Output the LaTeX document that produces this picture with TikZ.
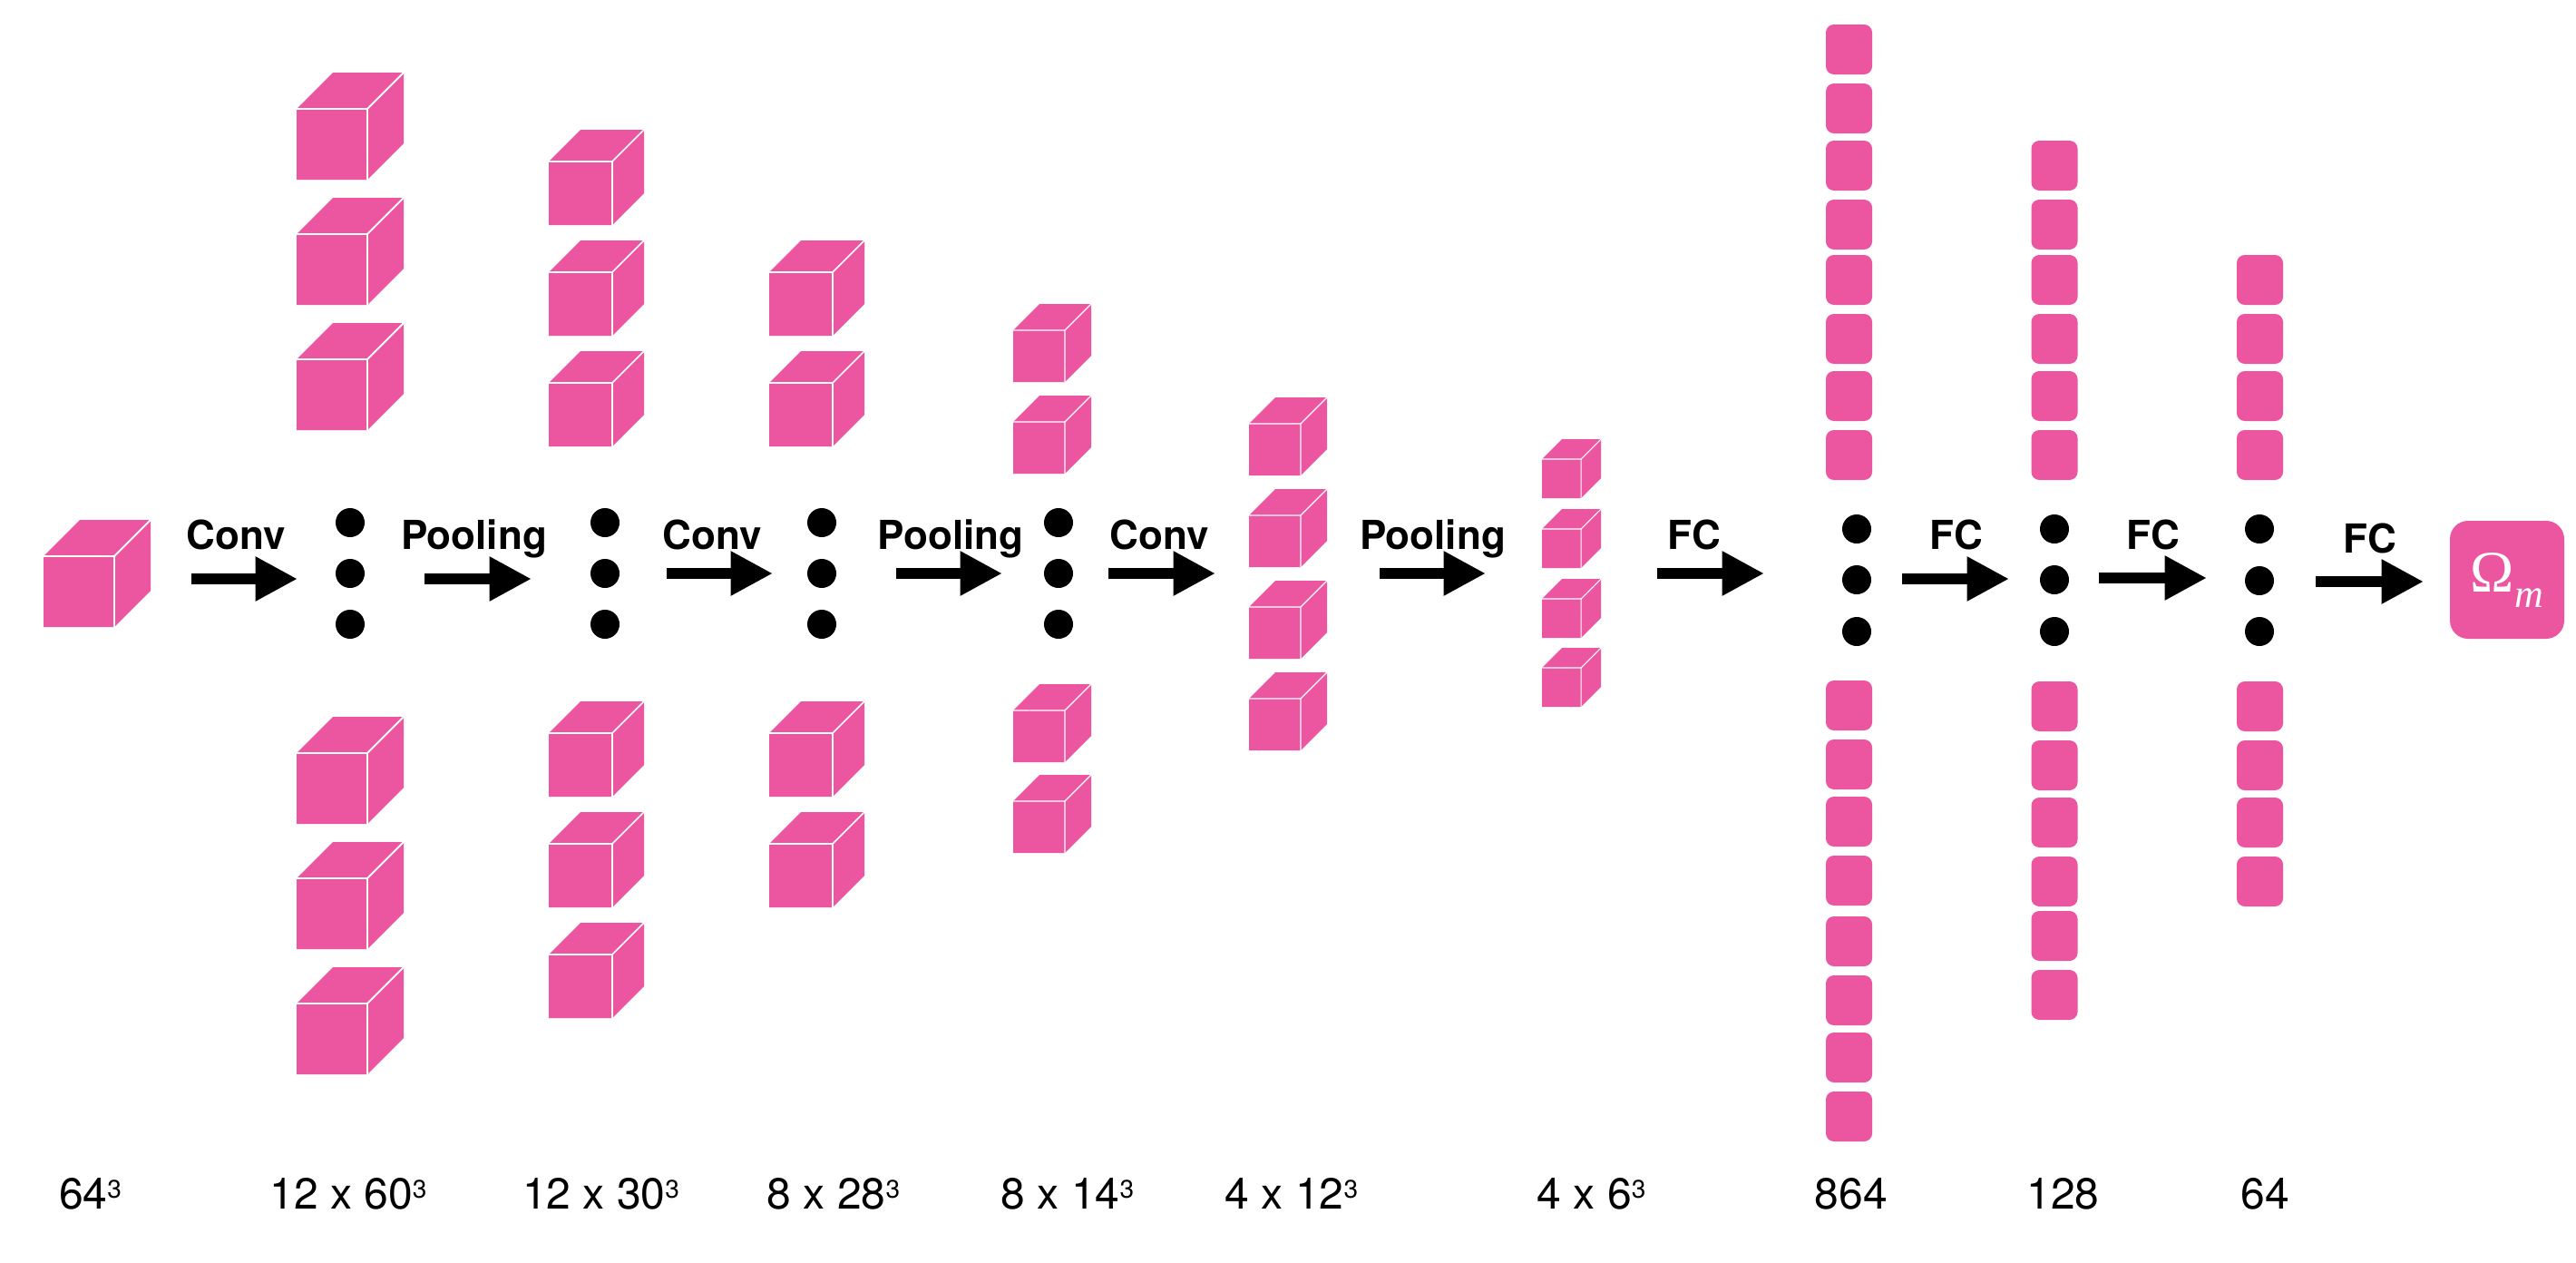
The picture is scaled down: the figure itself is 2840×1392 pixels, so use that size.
\documentclass[tikz,border=0pt]{standalone}
\usepackage{amsmath}
\usepackage{fontspec}
\setmainfont{TeX Gyre Heros}
\newfontfamily\omegafont{Liberation Serif}
\usepackage{xcolor}
\usetikzlibrary{arrows.meta,positioning}
\definecolor{cubepink}{HTML}{EC559F}
\newcommand{\cubed}{\raisebox{3pt}{\fontsize{7}{7}\selectfont 3}}
\tikzset{
  pics/cube/.style 2 args={code={
    \fill[cubepink] (0,#2) -- (#2,0) -- (#1+#2,0) -- (#1+#2,#1) -- (#1,#1+#2) -- (0,#1+#2) -- cycle;
    \draw[white,line width=#1*0.006pt] (0,#2) -- (#1,#2) -- (#1,#1+#2) (#1,#2) -- (#1+#2,0);
  }},
  dotnode/.style={circle,fill=black,inner sep=0pt,minimum size=8pt},
  fcbox/.style={rectangle,fill=cubepink,rounded corners=2.2pt,inner sep=0pt,minimum width=12.75pt,minimum height=13.75pt},
  oplabel/.style={anchor=base,inner sep=0pt,font=\fontsize{11}{11}\selectfont\bfseries},
  dimlabel/.style={anchor=base,inner sep=0pt,font=\fontsize{12}{12}\selectfont},
  flowarrow/.style={line width=3pt,-{Triangle[length=11.6pt,width=11.5pt]}}
}

\begin{document}
\begin{tikzpicture}[x=0.25pt,y=-0.25pt]
\useasboundingbox (0,0) rectangle (2840,1392);
% Cube stacks
\pic (in) at (48,573) {cube={78}{40}};
\foreach \t in {80,218,356,790,928,1066} \pic (ca\t) at (327,\t) {cube={78}{40}};
\foreach \t in {143,265,387,773,895,1017} \pic (cb\t) at (605,\t) {cube={70}{35}};
\foreach \t in {265,387,773,895} \pic (cc\t) at (848,\t) {cube={70}{35}};
\foreach \t in {335,436,754,854} \pic (cd\t) at (1117,\t) {cube={57}{29}};
\foreach \t in {438,539,640,741} \pic (ce\t) at (1377,\t) {cube={57}{29}};
\foreach \t in {484,561,638,714} \pic (cf\t) at (1700,\t) {cube={43}{22}};

% Fully connected columns
\foreach \t in {27,92,155,220,281,346,409,474,750,815,878,943,1010,1075,1138,1203}
  \node[fcbox] (fa\t) at (2038.5,\t+27.5) {};
\foreach \t in {155,220,281,346,409,474,751,816,879,944,1004,1069}
  \node[fcbox] (fb\t) at (2265,\t+27.5) {};
\foreach \t in {281,346,409,474,751,816,879,944}
  \node[fcbox] (fc\t) at (2491.5,\t+27.5) {};

% Dots
\foreach \n/\x/\ya/\yb/\yc in {a/386/576/632/688,b/667/576/632/688,c/906/576/632/688,d/1167/576/632/688,e/2047/583/639/696,f/2265/583/639/696,g/2491/583/640/696} {
  \node[dotnode] (\n1) at (\x,\ya) {};
  \node[dotnode] (\n2) at (\x,\yb) {};
  \node[dotnode] (\n3) at (\x,\yc) {};
}

% Output box
\node[rectangle,fill=cubepink,rounded corners=5pt,inner sep=0pt,minimum width=31.5pt,minimum height=32.5pt,text=white,font=\fontsize{16.25}{17}\selectfont\omegafont] (omega) at (2764,639)
  {\raisebox{-0.75pt}{Ω\raisebox{-4.25pt}{\fontsize{11}{11}\selectfont\itshape m}}};

% Arrows
\foreach \n/\xa/\xb/\yy in {1/211/328/638,2/468/586/638,3/735/852/632,4/988/1105/632,5/1222/1340/632,6/1521/1638/632,7/1827/1945/632,8/2097/2215/638,9/2314/2433/637,10/2553/2672/641} {
  \coordinate (s\n) at (\xa,\yy);
  \coordinate (e\n) at (\xb,\yy);
  \draw[flowarrow] (s\n) -- (e\n);
}

% Operation names
\node[oplabel] (op1) at (260.5,605) {Conv};
\node[oplabel] (op2) at (522.5,605) {Pooling};
\node[oplabel] (op3) at (785,605) {Conv};
\node[oplabel] (op4) at (1048,605) {Pooling};
\node[oplabel] (op5) at (1278,605) {Conv};
\node[oplabel] (op6) at (1579.5,605) {Pooling};
\node[oplabel] (op7) at (1868,605) {FC};
\node[oplabel] (op8) at (2156.5,605) {FC};
\node[oplabel] (op9) at (2373.5,605) {FC};
\node[oplabel] (op10) at (2612.5,609) {FC};

% Sizes
\node[dimlabel] (dim1) at (99.5,1332) {64\cubed};
\node[dimlabel] (dim2) at (384,1332) {12 x 60\cubed};
\node[dimlabel] (dim3) at (662.5,1332) {12 x 30\cubed};
\node[dimlabel] (dim4) at (919,1332) {8 x 28\cubed};
\node[dimlabel] (dim5) at (1177,1332) {8 x 14\cubed};
\node[dimlabel] (dim6) at (1424,1332) {4 x 12\cubed};
\node[dimlabel] (dim7) at (1754.5,1332) {4 x 6\cubed};
\node[dimlabel] (dim8) at (2041,1332) {864};
\node[dimlabel] (dim9) at (2274.5,1332) {128};
\node[dimlabel] (dim10) at (2497,1332) {64};
\end{tikzpicture}
\end{document}
